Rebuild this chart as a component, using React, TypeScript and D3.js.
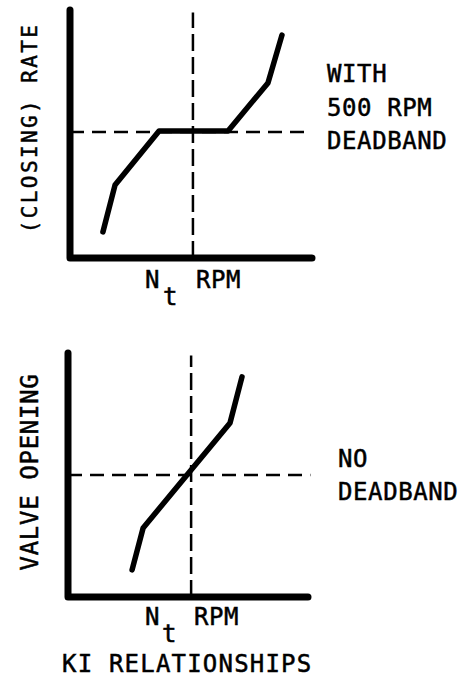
import React from "react";
import * as d3 from "d3";

// ---- data (abstract units, 0..10 on both axes) ----
const topCurveX = [1.36, 1.86, 3.68, 6.53, 8.18, 8.76];
const topCurveY = [1.05, 2.94, 5.12, 5.12, 7.06, 8.99];
const topNt = 5.08;
const topLevel = 5.08;

const botCurveX = [2.67, 3.13, 6.75, 7.25];
const botCurveY = [1.11, 2.83, 7.13, 9.02];
const botNt = 5.13;
const botLevel = 5.0;

const topYLabel = "(CLOSING) RATE";
const botYLabel = "VALVE OPENING";
const topNote = ["WITH", "500 RPM", "DEADBAND"];
const botNote = ["NO", "DEADBAND"];
const xLabelN = "N";
const xLabelSub = "t";
const xLabelUnit = "RPM";
const title = "KI RELATIONSHIPS";

const FONT = "'DejaVu Sans Mono', monospace";

type PanelProps = {
  x0: number; x1: number; y0: number; y1: number;
  cx: number[]; cy: number[]; nt: number; level: number;
  dashTop: number; dashRight: number;
};

function Panel({ x0, x1, y0, y1, cx, cy, nt, level, dashTop, dashRight }: PanelProps) {
  const xs = d3.scaleLinear().domain([0, 10]).range([x0, x1]);
  const ys = d3.scaleLinear().domain([0, 10]).range([y0, y1]);
  const pts: [number, number][] = cx.map((v, i) => [v, cy[i]]);
  const line = d3.line<[number, number]>().x(d => xs(d[0])).y(d => ys(d[1]));
  return (
    <g>
      <line x1={xs(nt)} x2={xs(nt)} y1={ys(0)} y2={ys(dashTop)} stroke="#000" strokeWidth={2.5} strokeDasharray="17,6" />
      <line x1={xs(0)} x2={xs(dashRight)} y1={ys(level)} y2={ys(level)} stroke="#000" strokeWidth={2.5} strokeDasharray="14,8" />
      <path d={line(pts) || ""} fill="none" stroke="#000" strokeWidth={5.5} strokeLinejoin="round" strokeLinecap="round" />
      <path d={`M${xs(0)},${ys(10)}L${xs(0)},${ys(0)}L${xs(10)},${ys(0)}`} fill="none" stroke="#000" strokeWidth={7} strokeLinejoin="round" strokeLinecap="round" />
    </g>
  );
}

export default function App() {
  return (
    <svg width={467} height={681} style={{ position: "absolute", left: 0, top: 0, background: "#fff" }}>
      <rect width={467} height={681} fill="#fff" />
      <Panel x0={70} x1={312} y0={258} y1={10} cx={topCurveX} cy={topCurveY} nt={topNt} level={topLevel} dashTop={9.9} dashRight={9.9} />
      <Panel x0={68} x1={308} y0={597} y1={353} cx={botCurveX} cy={botCurveY} nt={botNt} level={botLevel} dashTop={9.9} dashRight={10.1} />

      <g fontFamily={FONT} fill="#000" stroke="#000" strokeWidth={0.5}>
        <text transform="translate(37,128) rotate(-90)" textAnchor="middle" fontSize={21} letterSpacing={2.4}>{topYLabel}</text>
        <text transform="translate(38,472) rotate(-90)" textAnchor="middle" fontSize={24} letterSpacing={0.7}>{botYLabel}</text>

        {topNote.map((t, i) => (
          <text key={t} x={327} y={82 + i * 33.5} fontSize={24} letterSpacing={0.6}>{t}</text>
        ))}
        {botNote.map((t, i) => (
          <text key={t} x={338} y={467 + i * 33} fontSize={24} letterSpacing={0.6}>{t}</text>
        ))}

        <text x={145} y={288} fontSize={24}>{xLabelN}</text>
        <text x={163} y={305} fontSize={24}>{xLabelSub}</text>
        <text x={196} y={288} fontSize={24} letterSpacing={0.6}>{xLabelUnit}</text>

        <text x={145} y={625} fontSize={24}>{xLabelN}</text>
        <text x={162} y={642} fontSize={24}>{xLabelSub}</text>
        <text x={194} y={625} fontSize={24} letterSpacing={0.6}>{xLabelUnit}</text>

        <text x={62} y={672} fontSize={24} letterSpacing={1.2}>{title}</text>
      </g>
    </svg>
  );
}
